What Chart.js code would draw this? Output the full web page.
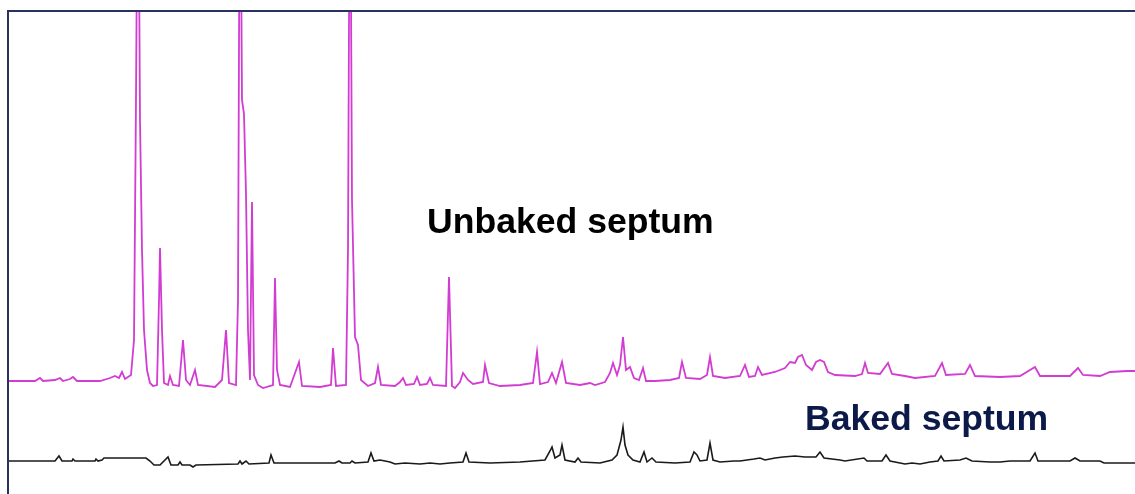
<!DOCTYPE html>
<html>
<head>
<meta charset="utf-8">
<script src="https://cdn.jsdelivr.net/npm/chart.js@4.4.1/dist/chart.umd.min.js"></script>
<style>
  html, body { margin: 0; padding: 0; background: #fff; }
  #wrap { position: relative; width: 1135px; height: 494px; }
</style>
</head>
<body>
<div id="wrap"><canvas id="chrom"></canvas></div>
<script>
// retention (arbitrary units) and detector signal
const rtUnbaked = [0,27,32,35,47,52,55,62,65,69,92,102,107,111,114,117,123,126,128,130,132,134,136,139,142,145,149,151,152,154,156,160,162,165,171,175,178,182,187,190,207,214,218,221,228,230,232,234,236,238,240,242,244,246,250,255,265,267,269,272,282,291,294,312,323,325,328,338,340,342,344,347,350,353,360,367,370,373,387,392,395,398,406,409,412,419,422,425,438,441,444,447,452,455,460,465,475,477,481,492,512,525,529,532,540,544,548,554,558,572,582,587,597,602,605,609,612,615,618,622,626,631,635,638,647,662,671,674,678,692,699,702,705,717,732,737,741,747,750,754,767,777,782,787,790,794,798,804,808,812,816,820,827,847,854,857,860,872,880,884,897,907,927,934,938,957,962,967,992,1012,1027,1032,1062,1070,1075,1092,1102,1119,1127];
const sigUnbaked = [113,113,116,113,114,116,113,115,117,113,113,116,118,116,122,115,119,154,394,700,374,244,164,124,111,108,109,194,246,164,111,109,118,109,108,154,114,109,124,109,107,114,164,111,109,194,700,394,380,300,164,114,292,119,109,106,109,216,124,109,107,132,108,107,109,146,108,109,244,700,294,157,149,114,108,111,127,109,108,112,116,109,110,117,109,110,116,109,108,217,108,106,112,121,114,110,112,129,111,108,109,111,142,110,112,121,111,132,111,109,111,109,112,121,131,119,129,157,124,127,116,114,126,113,113,114,116,132,116,115,119,137,118,116,118,129,117,118,127,119,122,126,132,131,137,139,129,124,132,134,132,122,119,118,120,131,121,120,131,120,118,116,118,131,119,120,129,118,117,118,127,118,118,126,119,118,122,123,123];

const rtBaked = [0,47,51,54,64,65,67,87,88,90,94,96,138,142,146,152,160,163,170,172,174,182,185,188,230,232,234,238,241,261,263,266,327,331,334,342,344,347,360,363,366,372,382,387,397,412,422,432,442,455,458,461,482,512,537,542,544,547,552,554,557,567,570,573,592,604,609,613,615,617,620,625,632,636,639,644,648,667,682,686,689,692,699,702,705,712,726,732,746,752,757,767,775,787,797,808,812,816,832,837,856,859,874,878,882,897,904,912,922,930,933,936,952,958,964,982,992,1002,1022,1027,1030,1062,1067,1072,1092,1096,1127];
const sigBaked = [33,33,38,33,33,35,33,33,35,33,34,36,36,33,29,29,37,29,29,32,29,29,27,29,30,33,30,33,30,31,39,31,31,33,31,31,33,31,32,41,33,34,32,30,31,30,31,30,31,32,41,32,31,32,34,43,47,36,39,49,34,32,36,32,31,34,39,54,67,49,39,34,32,42,32,36,32,31,32,42,39,33,34,51,34,32,33,33,35,36,34,36,37,38,37,37,42,36,34,33,36,33,33,39,33,30,31,30,32,33,38,33,34,36,33,32,32,33,33,41,33,33,36,33,33,31,31];

const labelTexts = ["Unbaked septum", "Baked septum"];

const toPoints = (xs, ys) => xs.map((x, i) => ({ x: x, y: ys[i] }));

// label anchors in data units (left edge, baseline)
const labelPlugin = {
  id: "traceLabels",
  afterDatasetsDraw(chart) {
    const { ctx, scales } = chart;
    const anchors = [
      { x: 419, y: 261, color: "#000000" },
      { x: 797, y: 64, color: "#0b1a48" },
    ];
    ctx.save();
    ctx.font = "bold 35.6px 'Liberation Sans', Arial, sans-serif";
    ctx.textBaseline = "alphabetic";
    ctx.textAlign = "left";
    labelTexts.forEach((t, i) => {
      ctx.fillStyle = anchors[i].color;
      ctx.fillText(t, scales.x.getPixelForValue(anchors[i].x), scales.y.getPixelForValue(anchors[i].y));
    });
    ctx.restore();
  },
};

const framePlugin = {
  id: "frame",
  afterDraw(chart) {
    const { ctx, chartArea } = chart;
    ctx.save();
    ctx.strokeStyle = "#27325e";
    ctx.lineWidth = 2;
    ctx.beginPath();
    ctx.moveTo(chartArea.left, chartArea.bottom);
    ctx.lineTo(chartArea.left, chartArea.top);
    ctx.lineTo(chartArea.right, chartArea.top);
    ctx.stroke();
    ctx.restore();
  },
};

new Chart(document.getElementById("chrom"), {
  type: "line",
  data: {
    datasets: [
      {
        label: labelTexts[0],
        data: toPoints(rtUnbaked, sigUnbaked),
        borderColor: "#d23cd2",
        borderWidth: 1.8,
        pointRadius: 0,
        tension: 0,
      },
      {
        label: labelTexts[1],
        data: toPoints(rtBaked, sigBaked),
        borderColor: "#1a1a1a",
        borderWidth: 1.6,
        pointRadius: 0,
        tension: 0,
      },
    ],
  },
  options: {
    responsive: true,
    maintainAspectRatio: false,
    animation: false,
    layout: { padding: { left: 8, top: 11, right: 0, bottom: 0 } },
    plugins: { legend: { display: false }, tooltip: { enabled: false } },
    scales: {
      x: { type: "linear", min: 0, max: 1127, display: false },
      y: { min: 0, max: 483, display: false },
    },
  },
  plugins: [labelPlugin, framePlugin],
});
</script>
</body>
</html>
